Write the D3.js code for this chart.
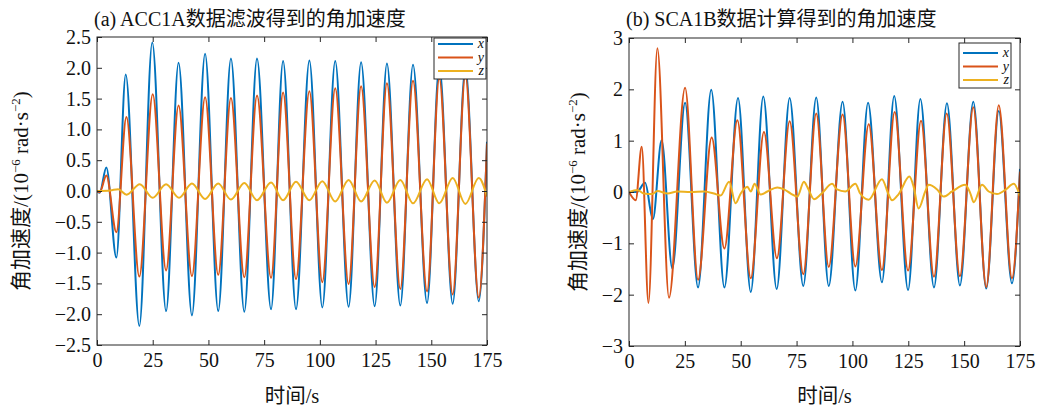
<!DOCTYPE html>
<html>
<head>
<meta charset="utf-8">
<script src="https://cdn.jsdelivr.net/npm/d3@7"></script>
<style>
  body { margin: 0; background: #fff; }
  svg { display: block; }
</style>
</head>
<body>
<svg id="chart" width="1037" height="409"></svg>
<script>
// ---- data: [time s, value 1e-6 rad/s^2] at turning points ----
const timeTicks = [0, 25, 50, 75, 100, 125, 150, 175]
const accTicks = [-2.5, -2, -1.5, -1, -0.5, 0, 0.5, 1, 1.5, 2, 2.5]
const scaTicks = [-3, -2, -1, 0, 1, 2, 3]
const seriesNames = ['x', 'y', 'z']

// (a) ACC1A filtered
const accX = [[0,0],[1.2,-0.03],[4.2,0.38],[8.7,-1.08],[12.9,1.89],[19.0,-2.19],[24.8,2.41],[31.0,-1.95],
  [36.6,2.08],[42.6,-2.02],[48.5,2.23],[54.4,-1.95],[60.1,2.15],[66.1,-1.96],[71.8,2.15],[78.1,-1.92],
  [83.5,2.11],[89.3,-1.92],[95.3,2.12],[101.1,-1.89],[106.9,2.11],[112.9,-1.88],[118.5,2.09],[124.6,-1.87],
  [130.1,2.07],[136.1,-1.86],[141.8,2.05],[148.1,-1.82],[153.6,2.03],[159.6,-1.83],[165.3,2.0],[171.3,-1.79],[175,0.8]]
const accY = [[0,0],[1.2,-0.02],[4.2,0.25],[8.7,-0.67],[13.2,1.20],[19.0,-1.39],[25.0,1.57],[31.0,-1.29],
  [36.6,1.39],[42.6,-1.38],[48.5,1.52],[54.4,-1.36],[60.1,1.51],[66.1,-1.40],[71.8,1.55],[78.1,-1.41],
  [83.5,1.60],[89.3,-1.43],[95.3,1.62],[101.1,-1.48],[106.9,1.67],[112.9,-1.51],[118.5,1.70],[124.6,-1.56],
  [130.1,1.75],[136.1,-1.59],[141.8,1.79],[148.1,-1.63],[153.6,1.83],[159.6,-1.68],[165.3,1.87],[171.3,-1.73],[175,0.77]]
const accZ = [[0,0],[6,0.01],[9.5,0.03],[13.3,-0.06],[19.2,0.11],[25,-0.11],[31,0.11],[36.8,-0.11],
  [42.6,0.12],[48.5,-0.13],[54.4,0.12],[60.1,-0.14],[66.1,0.13],[71.8,-0.15],[78.1,0.14],[83.5,-0.15],
  [89.3,0.15],[95.3,-0.15],[101.1,0.16],[106.9,-0.17],[112.9,0.18],[118.5,-0.17],[124.6,0.17],[130.1,-0.19],
  [136.1,0.18],[141.8,-0.20],[148.1,0.19],[153.6,-0.20],[159.6,0.21],[165.3,-0.21],[171.3,0.21],[175,-0.09]]

// (b) SCA1B derived
const scaX = [[0,0],[3.5,0],[7.2,0.18],[10.7,-0.53],[14.6,1.01],[19.4,-1.49],[25.1,1.74],[30.9,-1.86],
  [36.8,1.99],[42.7,-1.86],[48.8,1.83],[54.5,-1.95],[60.1,1.86],[66.1,-1.89],[71.9,1.83],[78.0,-1.83],
  [83.8,1.84],[89.4,-1.83],[95.6,1.76],[101.3,-1.92],[107.0,1.74],[113.2,-1.76],[118.7,1.87],[124.9,-1.91],
  [130.4,1.81],[136.5,-1.86],[142.3,1.73],[148.1,-1.82],[154.1,1.76],[159.9,-1.88],[165.5,1.58],[171.4,-1.78],[175,0.45]]
const scaY = [[0,0],[3.0,-0.16],[5.7,0.88],[8.7,-2.16],[12.7,2.80],[17.9,-2.06],[25.1,2.03],[30.9,-1.71],
  [37.0,1.06],[42.7,-1.10],[48.5,1.40],[54.5,-1.68],[60.4,1.17],[66.2,-1.29],[71.9,1.38],[78.0,-1.60],
  [83.8,1.53],[89.4,-1.46],[95.6,1.51],[101.3,-1.45],[107.3,1.32],[113.2,-1.52],[118.9,1.56],[124.9,-1.53],
  [130.7,1.39],[136.5,-1.65],[142.2,1.53],[148.1,-1.64],[154.1,1.65],[159.9,-1.85],[165.5,1.69],[171.4,-1.68],[175,0.4]]
const scaZ = [[0,0],[3.7,0.04],[6.7,-0.03],[10.4,-0.04],[12.7,0.02],[17.2,-0.03],[21.6,0.01],[27.6,0],
  [33.6,0.01],[38.0,-0.03],[41.0,-0.07],[44.8,0.20],[47.7,-0.22],[50.0,-0.03],[53.0,0.10],[54.5,0.01],
  [56.2,0.16],[58.9,-0.05],[61.9,0.01],[66.4,0.09],[69.4,0.05],[72.4,-0.03],[75.3,-0.09],[78.3,0.20],
  [79.8,0.10],[82.8,-0.14],[86.0,-0.04],[90.9,0.16],[93.1,0.05],[96.8,0.01],[101.3,0.16],[103.5,-0.03],
  [107.3,-0.15],[113.2,0.25],[116.2,-0.05],[117.7,-0.16],[120.7,-0.04],[125.5,0.30],[127.4,0.10],[129.6,-0.32],
  [132.6,0.01],[134.1,0.14],[137.9,0.05],[140.8,-0.09],[144.6,0.01],[150.5,0.14],[152.8,-0.03],[154.3,-0.20],
  [158.0,0.14],[161.0,0.01],[164.7,-0.04],[168.4,0.04],[172.2,0.16],[175,-0.08]]

const colors = ['#0072BD', '#D95319', '#EDB120']
const FONT = '"Liberation Serif","Noto Sans CJK SC",serif'
const INK = '#262626'

const svg = d3.select('#chart')
svg.append('rect').attr('width', 1037).attr('height', 409).attr('fill', '#fff')

function panel (o) {
  const x = d3.scaleLinear().domain([0, 175]).range([o.left, o.right])
  const y = d3.scaleLinear().domain(o.yDomain).range([o.bottom, o.top])
  const g = svg.append('g').attr('font-family', FONT)

  g.append('clipPath').attr('id', o.id + '-clip')
    .append('rect').attr('x', o.left).attr('y', o.top)
    .attr('width', o.right - o.left).attr('height', o.bottom - o.top)

  const line = d3.line()
    .x(d => x(d[0]))
    .y(d => y(d[1]))
    .curve(d3.curveMonotoneX)

  const lines = g.append('g').attr('clip-path', `url(#${o.id}-clip)`)
  // z drawn last so it sits on top, as in the figure
  o.series.forEach((s, i) => {
    lines.append('path')
      .attr('d', line(s))
      .attr('fill', 'none')
      .attr('stroke', colors[i])
      .attr('stroke-width', 2)
      .attr('stroke-linejoin', 'round')
  })

  const styleAxis = (ax) => {
    ax.select('.domain').remove()
    ax.selectAll('line').attr('stroke', INK)
    ax.selectAll('text').attr('font-size', 20).attr('fill', '#111').attr('font-family', FONT)
  }

  g.append('g').attr('transform', `translate(0,${o.bottom})`)
    .call(d3.axisBottom(x).tickValues(timeTicks).tickSizeInner(-5).tickSizeOuter(0).tickPadding(8))
    .call(styleAxis)
  g.append('g').attr('transform', `translate(0,${o.top})`)
    .call(d3.axisTop(x).tickValues(timeTicks).tickSizeInner(-5).tickSizeOuter(0).tickFormat(''))
    .call(styleAxis)
  g.append('g').attr('transform', `translate(${o.left},0)`)
    .call(d3.axisLeft(y).tickValues(o.yTicks).tickSizeInner(-5).tickSizeOuter(0).tickPadding(6).tickFormat(o.yFmt))
    .call(styleAxis)
  g.append('g').attr('transform', `translate(${o.right},0)`)
    .call(d3.axisRight(y).tickValues(o.yTicks).tickSizeInner(-5).tickSizeOuter(0).tickFormat(''))
    .call(styleAxis)

  g.append('rect')
    .attr('x', o.left).attr('y', o.top)
    .attr('width', o.right - o.left).attr('height', o.bottom - o.top)
    .attr('fill', 'none').attr('stroke', INK).attr('stroke-width', 1)

  // title
  g.append('text').attr('x', o.titleX).attr('y', 26)
    .attr('font-size', 20).attr('fill', '#111').text(o.title)

  // x label
  g.append('text').attr('x', (o.left + o.right) / 2).attr('y', 403)
    .attr('text-anchor', 'middle').attr('font-size', 20.5).attr('fill', '#111').text('时间/s')

  // y label
  const yl = g.append('text')
    .attr('transform', `translate(${o.ylabelX},${(o.top + o.bottom) / 2}) rotate(-90)`)
    .attr('text-anchor', 'middle').attr('font-size', 21).attr('fill', '#111')
  yl.append('tspan').text('角加速度/(10')
  yl.append('tspan').attr('dy', -8).attr('font-size', 13).text('−6')
  yl.append('tspan').attr('dy', 8).text(' rad·s')
  yl.append('tspan').attr('dy', -8).attr('font-size', 13).text('−2')
  yl.append('tspan').attr('dy', 8).text(')')

  // legend
  const L = o.legend
  const lg = g.append('g')
  lg.append('rect').attr('x', L.x).attr('y', L.y).attr('width', L.w).attr('height', L.h)
    .attr('fill', '#fff').attr('stroke', INK).attr('stroke-width', 1)
  seriesNames.forEach((n, i) => {
    const yy = L.y + L.row0 + i * L.step
    lg.append('line').attr('x1', L.x + 4).attr('x2', L.x + 39).attr('y1', yy).attr('y2', yy)
      .attr('stroke', colors[i]).attr('stroke-width', 2)
    lg.append('text').attr('x', L.x + L.w - 2).attr('y', yy + 4)
      .attr('text-anchor', 'end').attr('font-size', 14).attr('font-style', 'italic')
      .attr('fill', '#111').text(n)
  })
}

panel({
  id: 'acc', left: 97, right: 487, top: 37, bottom: 345,
  yDomain: [-2.5, 2.5], yTicks: accTicks, yFmt: d3.format('.1f'),
  title: '(a) ACC1A数据滤波得到的角加速度', titleX: 94, ylabelX: 28,
  series: [accX, accY, accZ],
  legend: { x: 434, y: 38, w: 52, h: 41, row0: 6, step: 13.5 }
})

panel({
  id: 'sca', left: 629, right: 1020, top: 38, bottom: 346,
  yDomain: [-3, 3], yTicks: scaTicks, yFmt: d3.format('d'),
  title: '(b) SCA1B数据计算得到的角加速度', titleX: 626, ylabelX: 585,
  series: [scaX, scaY, scaZ],
  legend: { x: 959, y: 43, w: 52, h: 45, row0: 10, step: 13.5 }
})
</script>
</body>
</html>
